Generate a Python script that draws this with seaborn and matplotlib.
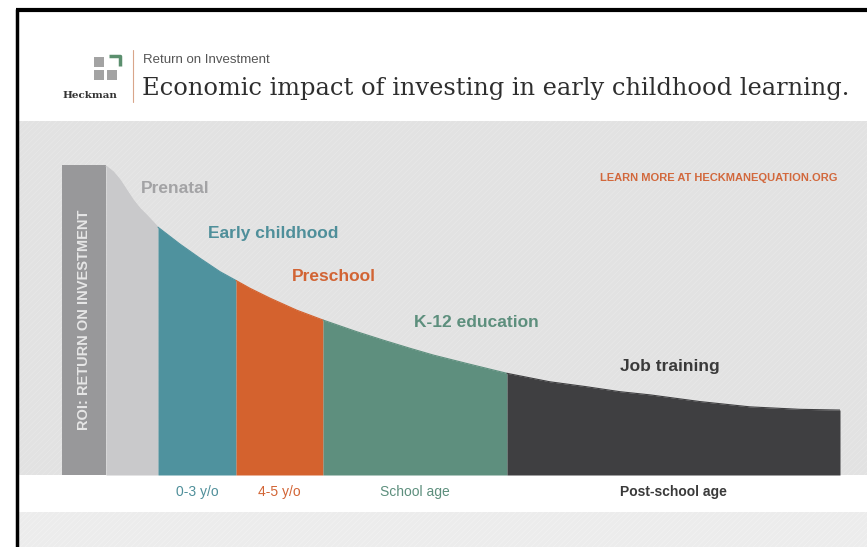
import numpy as np
import matplotlib
matplotlib.use("Agg")
import matplotlib.pyplot as plt
from matplotlib.patches import Rectangle
import seaborn as sns

# curve (x: position along the chart 0-100, y: relative ROI 0-100)
roi_x = [5.66, 6.59, 7.46, 8.32, 9.16, 10.03, 10.89, 12.34, 15.17, 17.74, 20.31,
         22.37, 24.16, 26.74, 30.17, 33.55, 37.88, 41.30, 44.73, 47.69, 52.02,
         57.20, 62.72, 67.44, 71.72, 75.58, 82.01, 88.43, 94.86, 100.0]
roi_y = [87.5, 85.9, 83.6, 80.7, 77.9, 75.5, 73.6, 70.2, 65.4, 61.4, 57.6,
         55.1, 52.9, 50.1, 46.7, 43.9, 40.6, 38.2, 35.9, 34.0, 31.6,
         28.8, 26.4, 25.0, 23.6, 22.7, 20.8, 19.3, 18.6, 18.4]

stage_names = ["Prenatal", "Early childhood", "Preschool", "K-12 education", "Job training"]
stage_edges = [5.66, 12.34, 22.37, 33.55, 57.20, 100.0]
stage_ages = ["", "0-3 y/o", "4-5 y/o", "School age", "Post-school age"]
stage_colors = ["#c9c9cb", "#4f929e", "#d4622e", "#5e8f7e", "#3f3f41"]
label_colors = ["#a3a3a5", "#4f8f9a", "#d26434", "#5d8f7d", "#3a3a3a"]
label_pos = [(14.6, 81.3), (27.1, 68.3), (35.0, 56.1), (53.3, 43.1), (78.1, 30.6)]

roi_bar_height = 87.8

sns.set_theme(style="white")
plt.rcParams["font.family"] = ["Liberation Sans", "DejaVu Sans"]
plt.rcParams["hatch.linewidth"] = 0.4

fig = plt.figure(figsize=(8.67, 5.47), dpi=100)
fig.patch.set_facecolor("white")

# background / frame layer in pixel layout
bg = fig.add_axes([0, 0, 1, 1])
bg.set_xlim(0, 867)
bg.set_ylim(547, 0)
bg.axis("off")
bg.add_patch(Rectangle((18, 121), 849, 354, facecolor="#e2e2e2", edgecolor="#e9e9e9",
                       hatch="//////", linewidth=0))
bg.add_patch(Rectangle((18, 512), 849, 35, facecolor="#ececec", edgecolor="#f3f3f3",
                       hatch="//////", linewidth=0))
bg.plot([17, 17], [9, 547], color="black", lw=2.5, solid_capstyle="butt")
bg.plot([16, 867], [10, 10], color="black", lw=3, solid_capstyle="butt")

# logo
bg.add_patch(Rectangle((94, 57), 10, 10, color="#a3a3a3", lw=0))
bg.add_patch(Rectangle((94, 70), 10, 10, color="#a3a3a3", lw=0))
bg.add_patch(Rectangle((107, 70), 10, 10, color="#a3a3a3", lw=0))
bg.plot([109, 120, 120], [56, 56, 66], color="#5b8f6e", lw=2.5, solid_capstyle="butt")
bg.text(90, 96, "Heckman", fontsize=7.5, family="DejaVu Serif", color="#333333",
        ha="center", va="center", fontweight="bold")
bg.plot([133, 133], [50, 102], color="#d9a58a", lw=0.8)
bg.text(143, 60, "Return on Investment", fontsize=9.5,
        family=["Liberation Sans Narrow", "Liberation Sans"], color="#555555",
        ha="left", va="center")
bg.text(142, 89, "Economic impact of investing in early childhood learning.",
        fontsize=17.4, family="DejaVu Serif", color="#2e2e2e", ha="left", va="center")

# chart
ax = fig.add_axes([62 / 867, 72 / 547, 778 / 867, 353 / 547])
ax.set_xlim(0, 100)
ax.set_ylim(0, 100)
ax.axis("off")
ax.patch.set_alpha(0)

ax.bar(0, roi_bar_height, width=stage_edges[0], align="edge", color="#98989a", lw=0)
ax.text(stage_edges[0] / 2, 43.9, "ROI: RETURN ON INVESTMENT", rotation=90,
        ha="center", va="center", color="#e6e6e6", fontsize=10.5, fontweight="bold")

x = np.array(roi_x)
y = np.array(roi_y)
for i, name in enumerate(stage_names):
    lo, hi = stage_edges[i], stage_edges[i + 1]
    m = (x >= lo) & (x <= hi)
    ax.fill_between(x[m], 0, y[m], color=stage_colors[i], lw=0)
    sns.lineplot(x=x[m], y=y[m], ax=ax, color=stage_colors[i], lw=0.8, sort=False)
    lx, ly = label_pos[i]
    ax.text(lx, ly, name, ha="center", va="center", fontsize=12.5,
            fontweight="bold", color=label_colors[i])
    if stage_ages[i]:
        ax.text((lo + hi) / 2, -4.8, stage_ages[i], ha="center", va="center",
                fontsize=10, color=label_colors[i],
                family=["Liberation Sans Narrow", "Liberation Sans"],
                fontweight="bold" if i == 4 else "normal", clip_on=False)

ax.text(99.7, 84.1, "LEARN MORE AT HECKMANEQUATION.ORG", ha="right", va="center",
        fontsize=8, fontweight="bold", color="#d2683c")

fig.savefig("out.png", dpi=100)
